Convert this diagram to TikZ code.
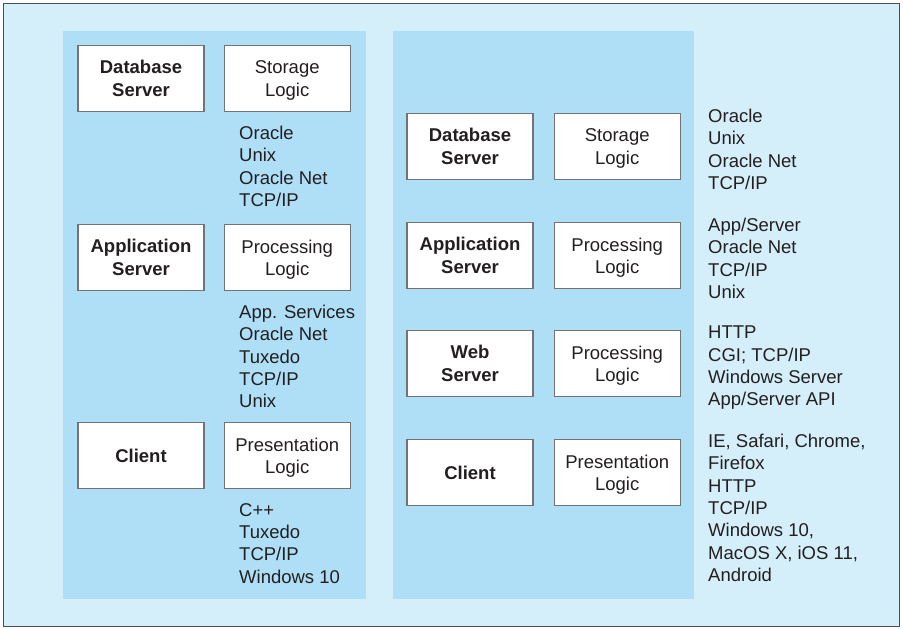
\documentclass[tikz,border=0pt]{standalone}
\usepackage{fontspec}
\setmainfont{Liberation Sans}
\usetikzlibrary{%
  positioning,%
}
\definecolor{outerblue}{HTML}{D4EEFA}
\definecolor{panelblue}{HTML}{AEDFF6}
\definecolor{framegray}{HTML}{4D4D4D}
\definecolor{inkgray}{HTML}{231F20}

\begin{document}
\fontsize{18.5}{22.3}\selectfont
\begin{tikzpicture}[x=1pt, y=-1pt, text=inkgray,
    tier/.style={draw=black!55, line width=1.2pt, fill=white, minimum width=126pt,
      minimum height=66pt, inner sep=0pt, align=center, font=\bfseries},
    logic/.style={tier, font=\mdseries, text depth=0pt},
    stack/.style={anchor=north west, inner sep=0pt, align=left}]

      \useasboundingbox (0, 0) rectangle (903, 629);

      \fill [fill=outerblue, draw=framegray, line width=1.2pt] (3.5, 3.5) rectangle (899.5, 626.5);

      % two-tier, left
      \fill [fill=panelblue] (63, 31) rectangle (366, 599);

      \node[tier] (ldb) at (141, 78.5) {Database\\Server};
      \node[logic, right=19pt of ldb] (ldblogic) {Storage\\Logic};
      \node[stack] (ldbstack) at (239, 126) {Oracle\\Unix\\Oracle Net\\TCP/IP};

      \node[tier] (lapp) at (141, 257.5) {Application\\Server};
      \node[logic, right=19pt of lapp] (lapplogic) {Processing\\Logic};
      \node[stack] (lappstack) at (239, 305)
        {App. Services\\Oracle Net\\Tuxedo\\TCP/IP\\Unix};

      \node[tier] (lclient) at (141, 455.5) {Client};
      \node[logic, right=19pt of lclient] (lclientlogic) {Presentation\\Logic};
      \node[stack] (lclientstack) at (239, 503) {C++\\Tuxedo\\TCP/IP\\Windows 10};

      % n-tier, right
      \fill [fill=panelblue] (393, 31) rectangle (694, 599);

      \node[tier] (rdb) at (470, 146.5) {Database\\Server};
      \node[logic, right=20pt of rdb] (rdblogic) {Storage\\Logic};
      \node[stack] (rdbstack) at (708, 109) {Oracle\\Unix\\Oracle Net\\TCP/IP};

      \node[tier] (rapp) at (470, 255.5) {Application\\Server};
      \node[logic, right=20pt of rapp] (rapplogic) {Processing\\Logic};
      \node[stack] (rappstack) at (708, 218) {App/Server\\Oracle Net\\TCP/IP\\Unix};

      \node[tier] (rweb) at (470, 363.5) {Web\\Server};
      \node[logic, right=20pt of rweb] (rweblogic) {Processing\\Logic};
      \node[stack] (rwebstack) at (708, 326)
        {HTTP\\CGI; TCP/IP\\Windows Server\\App/Server API};

      \node[tier] (rclient) at (470, 472.5) {Client};
      \node[logic, right=20pt of rclient] (rclientlogic) {Presentation\\Logic};
      \node[stack] (rclientstack) at (708, 434)
        {IE, Safari, Chrome,\\Firefox\\HTTP\\TCP/IP\\Windows 10,\\MacOS X, iOS 11,\\Android};

    \end{tikzpicture}
\end{document}
